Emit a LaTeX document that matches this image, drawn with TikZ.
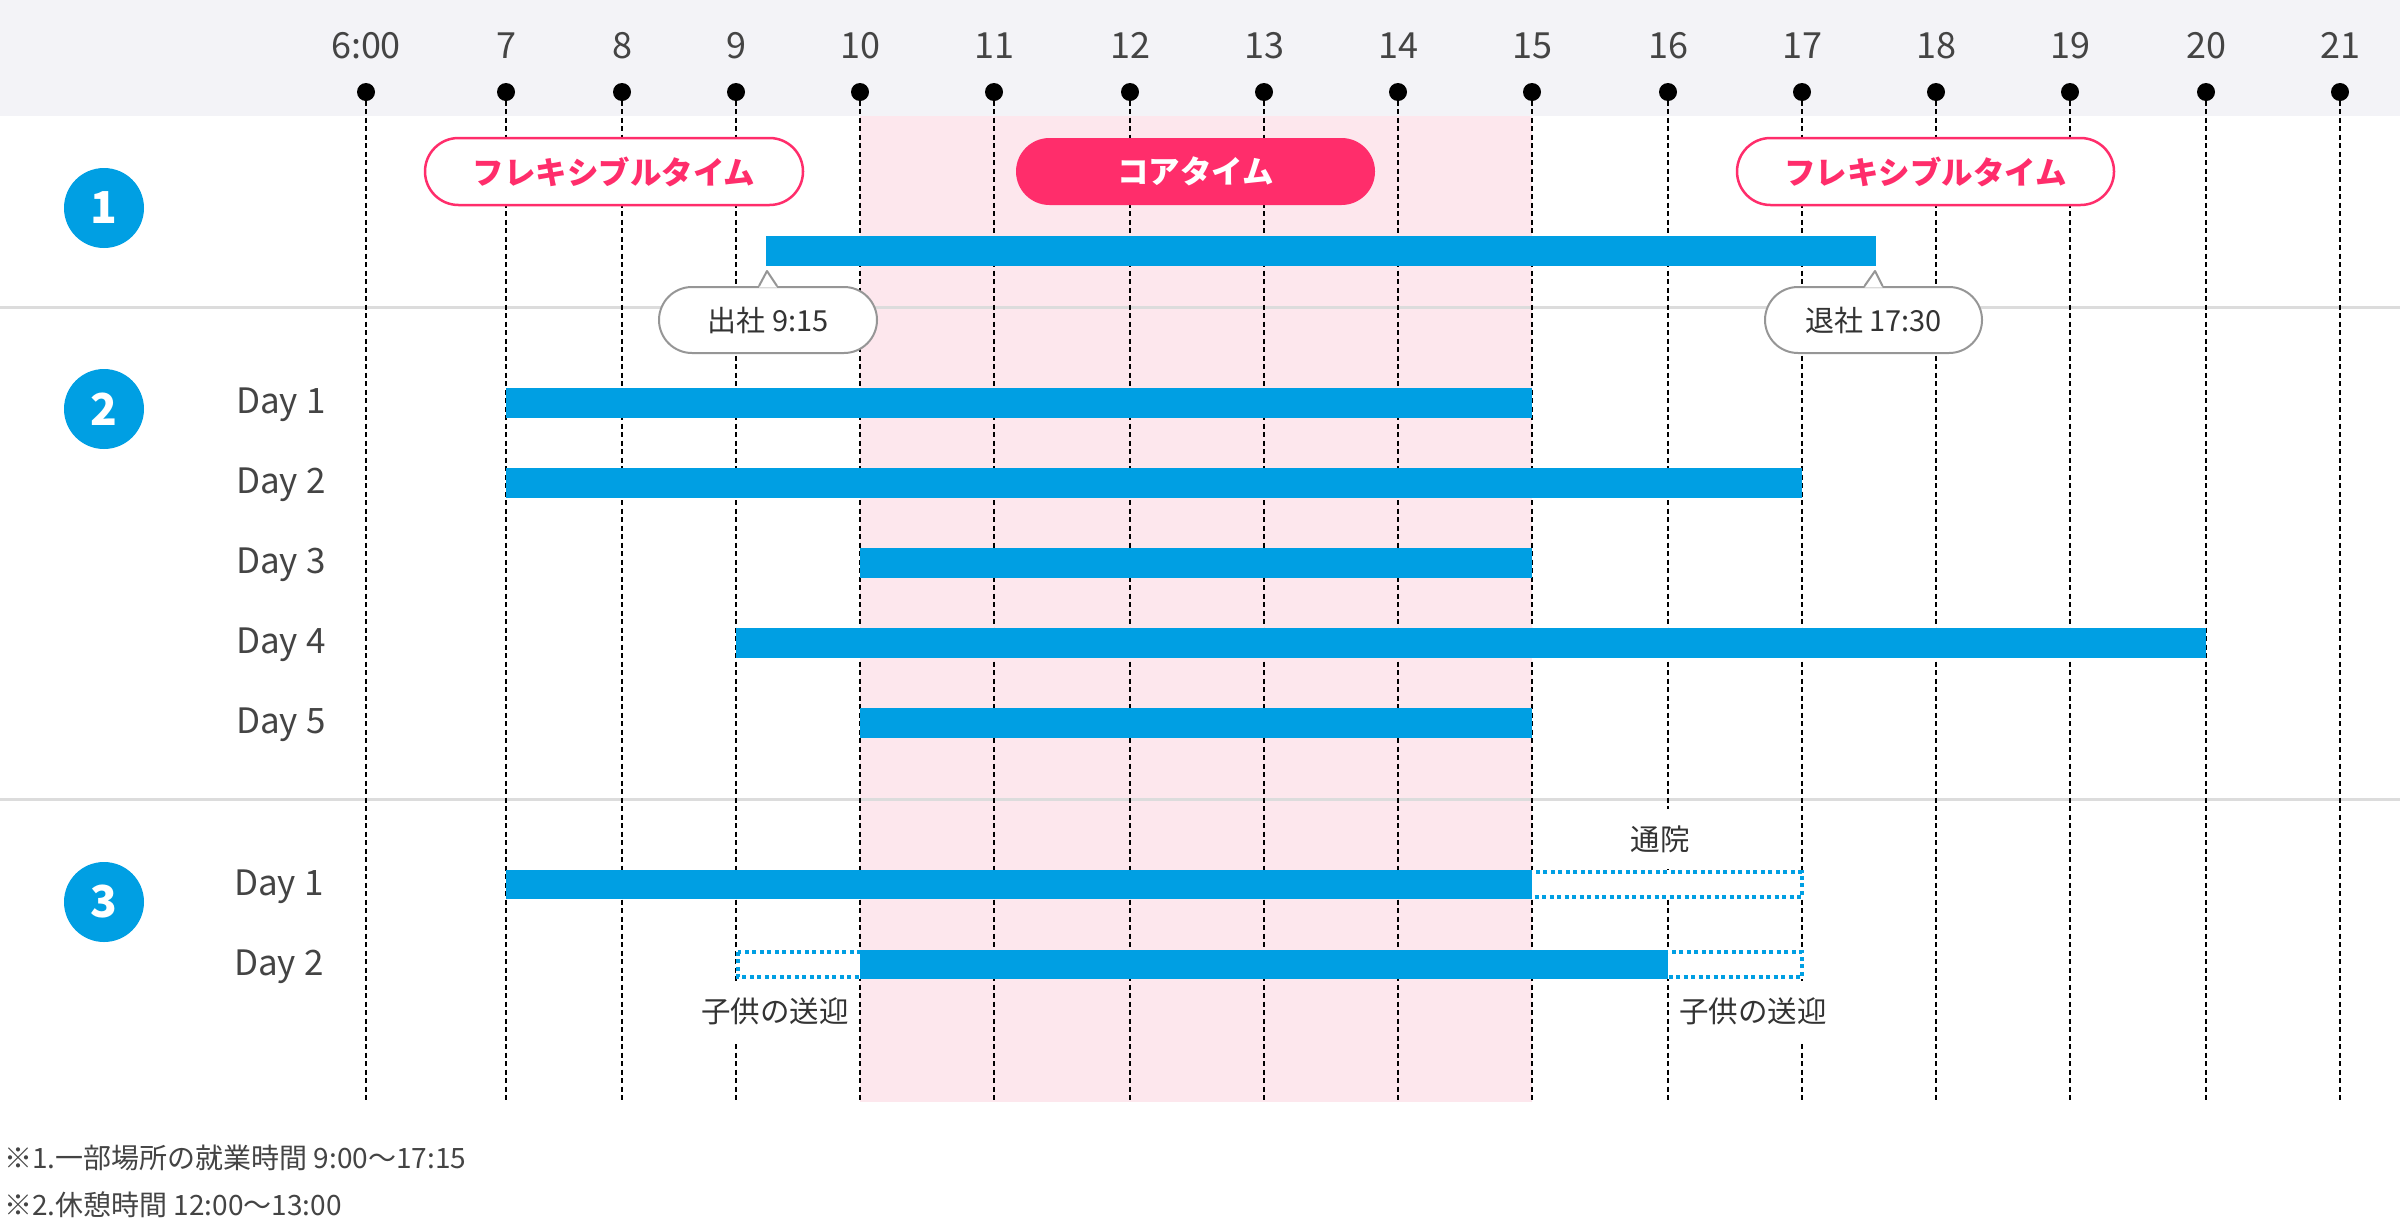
\documentclass[tikz,border=0pt]{standalone}
\usepackage{fontspec}
\setmainfont{Noto Sans CJK JP}
\definecolor{barblue}{RGB}{0,159,227}
\definecolor{pinkc}{RGB}{255,45,107}
\definecolor{corepink}{RGB}{253,231,237}
\definecolor{bandgray}{RGB}{243,243,247}
\definecolor{sepgray}{RGB}{220,220,220}
\definecolor{textgray}{RGB}{68,68,68}
\definecolor{textdark}{RGB}{51,51,51}
\definecolor{calloutgray}{RGB}{150,150,150}
\begin{document}
\begin{tikzpicture}[x=1pt,y=-1pt,
  hourlabel/.style={anchor=base,inner sep=0,text=textgray,font=\fontsize{36}{36}\selectfont},
  hourdot/.style={circle,fill=black,minimum size=18,inner sep=0},
  gridline/.style={black,line width=2,dash pattern=on 5pt off 3.5pt},
  sepline/.style={sepgray,line width=3},
  numc/.style={circle,fill=barblue,minimum size=80,inner sep=0,text=white,font=\bfseries\fontsize{44}{44}\selectfont},
  flexpill/.style={draw=pinkc,line width=2.5,fill=white,rounded corners=33.5,minimum height=67,inner sep=0,text=pinkc,font=\bfseries\fontsize{31.5}{31.5}\selectfont},
  corepill/.style={fill=pinkc,rounded corners=33.5,minimum height=67,inner sep=0,text=white,font=\bfseries\fontsize{31.5}{31.5}\selectfont},
  bar/.style={fill=barblue},
  callout/.style={draw=calloutgray,line width=2,fill=white,rounded corners=33,minimum height=66,inner sep=0,text=textdark,font=\fontsize{29}{29}\selectfont},
  daylabel/.style={anchor=base west,inner sep=0,text=textgray,font=\fontsize{35}{35}\selectfont},
  dotbox/.style={draw=barblue,line width=3.5,dash pattern=on 4pt off 3.5pt},
  note/.style={fill=white,inner xsep=3,inner ysep=16,text=textdark,font=\fontsize{29.5}{29.5}\selectfont},
  foot/.style={anchor=base west,inner sep=0,text=textgray,font=\fontsize{28}{28}\selectfont}
]
\useasboundingbox (0,0) rectangle (2400,1224);
\fill[white] (0,0) rectangle (2400,1224);
\fill[bandgray] (0,0) rectangle (2400,116);
\fill[corepink] (860,116) rectangle (1532,1102);
\draw[sepline] (0,307) -- (2400,307);
\draw[sepline] (0,799) -- (2400,799);

% hour axis
\foreach \x/\t/\n in {366/6:00/h6,506/7/h7,622/8/h8,736/9/h9,860/10/h10,994/11/h11,1130/12/h12,1264/13/h13,1398/14/h14,1532/15/h15,1668/16/h16,1802/17/h17,1936/18/h18,2070/19/h19,2206/20/h20,2340/21/h21}{
  \node[hourlabel] (l\n) at (\x,58) {\t};
  \coordinate (t\n) at (\x,92);
  \coordinate (e\n) at (\x,1102);
  \draw[gridline] (t\n) -- (e\n);
  \node[hourdot] (d\n) at (t\n) {};
}

% section numbers
\node[numc] (n1) at (104,208) {1};
\node[numc] (n2) at (104,409) {2};
\node[numc] (n3) at (104,902) {3};

% section 1
\node[flexpill,minimum width=378] (flex1) at (614,171.5) {フレキシブルタイム};
\node[corepill,minimum width=359] (core) at (1195.5,171.5) {コアタイム};
\node[flexpill,minimum width=377] (flex2) at (1925.5,171.5) {フレキシブルタイム};
\fill[bar] (766,236) rectangle (1876,266);
\coordinate (inTip) at (767,271);
\coordinate (outTip) at (1875,271);
\node[callout,minimum width=218] (in) at (768,320) {出社 9:15};
\node[callout,minimum width=217] (out) at (1873.5,320) {退社 17:30};
\fill[white] ([xshift=-9pt,yshift=-1.5pt]in.north) -- (inTip) -- ([xshift=9pt,yshift=-1.5pt]in.north) -- cycle;
\draw[calloutgray,line width=2,line join=round] ([xshift=-9pt]in.north) -- (inTip) -- ([xshift=9pt]in.north);
\fill[white] ([xshift=-9pt,yshift=-1.5pt]out.north) -- (outTip) -- ([xshift=9pt,yshift=-1.5pt]out.north) -- cycle;
\draw[calloutgray,line width=2,line join=round] ([xshift=-9pt]out.north) -- (outTip) -- ([xshift=9pt]out.north);

% section 2
\node[daylabel] (s2d1) at (236,413) {Day 1};
\node[daylabel] (s2d2) at (236,493) {Day 2};
\node[daylabel] (s2d3) at (236,573) {Day 3};
\node[daylabel] (s2d4) at (236,653) {Day 4};
\node[daylabel] (s2d5) at (236,733) {Day 5};
\fill[bar] (506,388) rectangle (1532,418);
\fill[bar] (506,468) rectangle (1802,498);
\fill[bar] (860,548) rectangle (1532,578);
\fill[bar] (736,628) rectangle (2206,658);
\fill[bar] (860,708) rectangle (1532,738);

% section 3
\node[daylabel] (s3d1) at (234,895) {Day 1};
\node[daylabel] (s3d2) at (234,975) {Day 2};
\node[note] (tsuin) at (1660,839) {通院};
\fill[white] (1530,870) rectangle (1804,899);
\fill[white] (736,950) rectangle (864,979);
\fill[white] (1664,950) rectangle (1804,979);
\draw[dotbox] (1530,871.8) rectangle (1802,897.2);
\draw[dotbox] (737.8,951.8) rectangle (864,977.2);
\draw[dotbox] (1664,951.8) rectangle (1802,977.2);
\fill[bar] (506,870) rectangle (1532,899);
\fill[bar] (860,950) rectangle (1668,979);
\node[note,anchor=east] (pick1) at (852,1011) {子供の送迎};
\node[note,anchor=west] (pick2) at (1676,1011) {子供の送迎};

% footnotes
\node[foot] (fn1) at (4,1168) {※1.一部場所の就業時間 9:00〜17:15};
\node[foot] (fn2) at (4,1215) {※2.休憩時間 12:00〜13:00};
\end{tikzpicture}
\end{document}
